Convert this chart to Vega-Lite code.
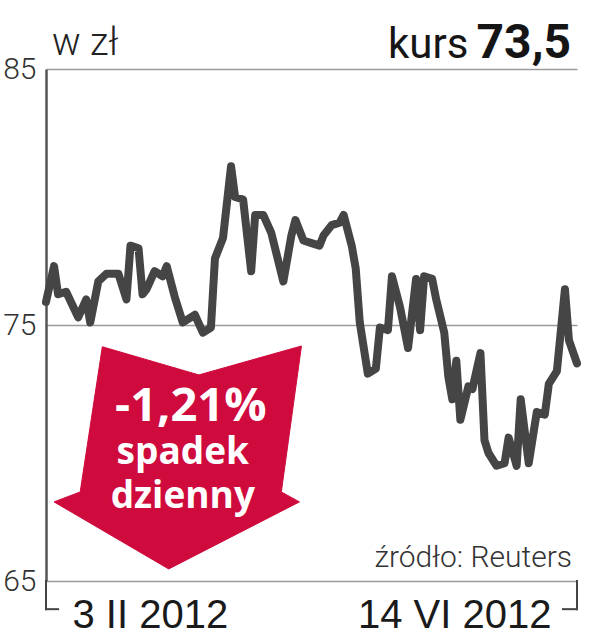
{
  "$schema": "https://vega.github.io/schema/vega-lite/v6.json",
  "width": 531,
  "height": 512,
  "autosize": "none",
  "padding": {"left": 46, "top": 69, "right": 34, "bottom": 59},
  "background": "white",
  "config": {"view": {"stroke": null}, "font": "Roboto"},
  "encoding": {
    "x": {
      "field": "date", "type": "temporal", "title": null,
      "scale": {"type": "utc", "domain": [{"year": 2012, "month": 2, "date": 3, "utc": true}, {"year": 2012, "month": 6, "date": 14, "utc": true}]},
      "axis": {
        "values": [{"year": 2012, "month": 2, "date": 3, "utc": true}, {"year": 2012, "month": 6, "date": 14, "utc": true}],
        "labelExpr": "utcdate(datum.value) + ' ' + ['I','II','III','IV','V','VI','VII','VIII','IX','X','XI','XII'][utcmonth(datum.value)] + ' ' + utcyear(datum.value)",
        "labelFlush": true, "labelFlushOffset": -26, "labelLimit": 400,
        "ticks": false, "domain": false, "grid": false,
        "labelFont": "Liberation Sans", "labelFontSize": 40, "labelColor": "#1a1a1a",
        "labelPadding": 46, "labelBaseline": "alphabetic"
      }
    },
    "y": {
      "field": "value", "type": "quantitative", "title": null,
      "scale": {"domain": [65, 85], "nice": false, "zero": false},
      "axis": {
        "values": [65, 75, 85], "grid": true, "gridColor": "#9a9a9a", "gridWidth": 1.5,
        "domain": true, "domainColor": "#555555", "domainWidth": 2.5,
        "ticks": false, "labelPadding": 10, "labelFontSize": 30, "labelFontWeight": 300,
        "labelFont": "Roboto", "labelColor": "#333333"
      }
    }
  },
  "layer": [
    {
      "data": {"values": [
        {"order": 1, "date": "2012-02-17", "value": 74.15},
        {"order": 2, "date": "2012-03-12", "value": 73.05},
        {"order": 3, "date": "2012-04-06T12:00:00Z", "value": 74.18},
        {"order": 4, "date": "2012-04-01T12:00:00Z", "value": 68.48},
        {"order": 5, "date": "2012-04-06", "value": 68.09},
        {"order": 6, "date": "2012-03-04T12:00:00Z", "value": 65.47},
        {"order": 7, "date": "2012-02-05", "value": 68.09},
        {"order": 8, "date": "2012-02-11T12:00:00Z", "value": 68.48},
        {"order": 9, "date": "2012-02-17", "value": 74.15}
      ]},
      "mark": {"type": "line", "fill": "#cf0a3c", "stroke": "#cf0a3c", "strokeWidth": 1},
      "encoding": {"order": {"field": "order", "type": "quantitative"}}
    },
    {
      "data": {"values": [
        {"date": "2012-02-03", "value": 75.9},
        {"date": "2012-02-05", "value": 77.3},
        {"date": "2012-02-06", "value": 76.2},
        {"date": "2012-02-08", "value": 76.3},
        {"date": "2012-02-11", "value": 75.3},
        {"date": "2012-02-13", "value": 76.0},
        {"date": "2012-02-14", "value": 75.1},
        {"date": "2012-02-16", "value": 76.7},
        {"date": "2012-02-18", "value": 77.0},
        {"date": "2012-02-21", "value": 77.0},
        {"date": "2012-02-23", "value": 76.0},
        {"date": "2012-02-24", "value": 78.1},
        {"date": "2012-02-26", "value": 78.0},
        {"date": "2012-02-27", "value": 76.2},
        {"date": "2012-02-28", "value": 76.4},
        {"date": "2012-03-01", "value": 77.1},
        {"date": "2012-03-03", "value": 76.9},
        {"date": "2012-03-04", "value": 77.3},
        {"date": "2012-03-06", "value": 76.1},
        {"date": "2012-03-08", "value": 75.1},
        {"date": "2012-03-10", "value": 75.3},
        {"date": "2012-03-11", "value": 75.4},
        {"date": "2012-03-13", "value": 74.7},
        {"date": "2012-03-15", "value": 74.9},
        {"date": "2012-03-16", "value": 77.6},
        {"date": "2012-03-18", "value": 78.4},
        {"date": "2012-03-20", "value": 81.2},
        {"date": "2012-03-21", "value": 80.0},
        {"date": "2012-03-23", "value": 79.9},
        {"date": "2012-03-25", "value": 77.1},
        {"date": "2012-03-26", "value": 79.3},
        {"date": "2012-03-28", "value": 79.3},
        {"date": "2012-03-30", "value": 78.6},
        {"date": "2012-04-02", "value": 76.7},
        {"date": "2012-04-04", "value": 78.5},
        {"date": "2012-04-05", "value": 79.1},
        {"date": "2012-04-07", "value": 78.3},
        {"date": "2012-04-09", "value": 78.2},
        {"date": "2012-04-11", "value": 78.1},
        {"date": "2012-04-12", "value": 78.5},
        {"date": "2012-04-14", "value": 78.9},
        {"date": "2012-04-16", "value": 79.0},
        {"date": "2012-04-17", "value": 79.3},
        {"date": "2012-04-19", "value": 78.1},
        {"date": "2012-04-20", "value": 77.2},
        {"date": "2012-04-21", "value": 75.1},
        {"date": "2012-04-23", "value": 73.1},
        {"date": "2012-04-25", "value": 73.3},
        {"date": "2012-04-26", "value": 74.9},
        {"date": "2012-04-28", "value": 74.8},
        {"date": "2012-04-29", "value": 76.9},
        {"date": "2012-05-01", "value": 75.7},
        {"date": "2012-05-03", "value": 74.1},
        {"date": "2012-05-05", "value": 76.8},
        {"date": "2012-05-06", "value": 74.8},
        {"date": "2012-05-07", "value": 76.9},
        {"date": "2012-05-09", "value": 76.8},
        {"date": "2012-05-10", "value": 76.0},
        {"date": "2012-05-12", "value": 74.7},
        {"date": "2012-05-13", "value": 73.0},
        {"date": "2012-05-14", "value": 72.1},
        {"date": "2012-05-15", "value": 73.6},
        {"date": "2012-05-16", "value": 71.3},
        {"date": "2012-05-18", "value": 72.6},
        {"date": "2012-05-19", "value": 72.5},
        {"date": "2012-05-21", "value": 73.9},
        {"date": "2012-05-22", "value": 70.5},
        {"date": "2012-05-23", "value": 70.0},
        {"date": "2012-05-25", "value": 69.5},
        {"date": "2012-05-27", "value": 69.6},
        {"date": "2012-05-28", "value": 70.6},
        {"date": "2012-05-30", "value": 69.5},
        {"date": "2012-05-31", "value": 72.1},
        {"date": "2012-06-02", "value": 69.6},
        {"date": "2012-06-03", "value": 70.6},
        {"date": "2012-06-04", "value": 71.6},
        {"date": "2012-06-06", "value": 71.5},
        {"date": "2012-06-07", "value": 72.7},
        {"date": "2012-06-09", "value": 73.2},
        {"date": "2012-06-11", "value": 76.4},
        {"date": "2012-06-12", "value": 74.4},
        {"date": "2012-06-14", "value": 73.5}
      ]},
      "mark": {"type": "line", "color": "#454545", "strokeWidth": 8, "strokeJoin": "round", "strokeCap": "round"}
    },
    {
      "data": {"values": [
        {"date": "2012-02-03", "value": 65, "date2": "2012-02-03", "value2": 63.9},
        {"date": "2012-02-03", "value": 63.9, "date2": "2012-02-06", "value2": 63.9},
        {"date": "2012-06-14", "value": 65, "date2": "2012-06-14", "value2": 63.9},
        {"date": "2012-06-10T12:00:00Z", "value": 63.9, "date2": "2012-06-14", "value2": 63.9}
      ]},
      "mark": {"type": "rule", "color": "#444444", "strokeWidth": 2, "strokeCap": "square"},
      "encoding": {"x2": {"field": "date2"}, "y2": {"field": "value2"}}
    },
    {
      "data": {"values": [{"date": "2012-02-03", "value": 85.53, "label": "w zł"}]},
      "mark": {"type": "text", "align": "left", "baseline": "alphabetic", "dx": 6, "fontSize": 38, "fontWeight": 300, "color": "#222222", "font": "Roboto"},
      "encoding": {"text": {"field": "label"}}
    },
    {
      "data": {"values": [{"date": "2012-05-18", "value": 85.43, "label": "kurs"}]},
      "mark": {"type": "text", "align": "right", "baseline": "alphabetic", "fontSize": 42, "color": "#151515", "font": "Roboto"},
      "encoding": {"text": {"field": "label"}}
    },
    {
      "data": {"values": [{"date": "2012-06-14", "value": 85.43, "label": "73,5"}]},
      "mark": {"type": "text", "align": "right", "baseline": "alphabetic", "dx": -6, "fontSize": 48, "fontWeight": "bold", "color": "#151515", "font": "Roboto"},
      "encoding": {"text": {"field": "label"}}
    },
    {
      "data": {"values": [{"date": "2012-06-14", "value": 65.55, "label": "źródło: Reuters"}]},
      "mark": {"type": "text", "align": "right", "baseline": "alphabetic", "dx": -5, "fontSize": 30, "fontWeight": 300, "color": "#333333", "font": "Roboto"},
      "encoding": {"text": {"field": "label"}}
    },
    {
      "data": {"values": [{"date": "2012-03-10", "value": 71.25, "label": "-1,21%"}]},
      "mark": {"type": "text", "align": "center", "baseline": "alphabetic", "fontSize": 47, "fontWeight": "bold", "color": "white", "font": "Open Sans"},
      "encoding": {"text": {"field": "label"}}
    },
    {
      "data": {"values": [{"date": "2012-03-08", "value": 69.57, "label": ["spadek", "dzienny"]}]},
      "mark": {"type": "text", "align": "center", "baseline": "alphabetic", "fontSize": 37, "lineHeight": 44, "fontWeight": "bold", "color": "white", "font": "Open Sans"},
      "encoding": {"text": {"field": "label"}}
    }
  ]
}
